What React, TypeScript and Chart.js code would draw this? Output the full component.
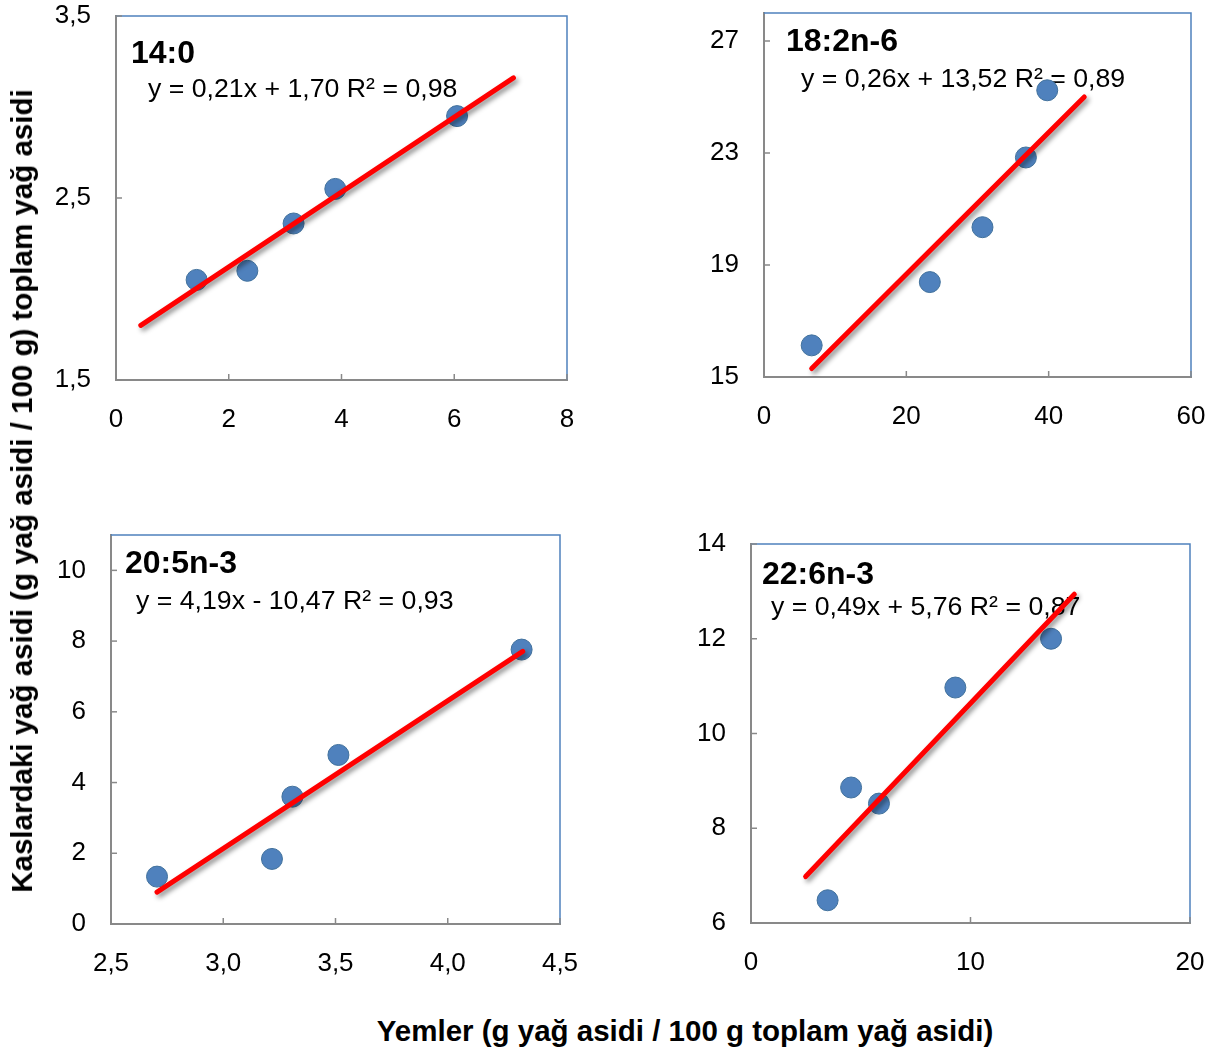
import React, { useEffect, useRef } from 'react';
import { Chart, registerables } from 'chart.js';

Chart.register(...registerables);

const FONT = '"Liberation Sans", Arial, Helvetica, sans-serif';

// ---------- Text ----------
const yAxisTitle = 'Kaslardaki yağ asidi (g yağ asidi / 100 g) toplam yağ asidi';
const xAxisTitle = 'Yemler (g yağ asidi / 100 g toplam yağ asidi)';
const panelTitles = ['14:0', '18:2n-6', '20:5n-3', '22:6n-3'];
const equations = [
  'y = 0,21x + 1,70 R² = 0,98',
  'y = 0,26x + 13,52 R² = 0,89',
  'y = 4,19x - 10,47 R² = 0,93',
  'y = 0,49x + 5,76 R² = 0,87',
];

// ---------- Panel 1: 14:0 ----------
const p1X = [1.43, 2.33, 3.15, 3.89, 6.05];
const p1Y = [2.05, 2.1, 2.36, 2.55, 2.95];
const p1TrendX = [0.44, 7.05];
const p1TrendY = [1.8, 3.16];
const p1XRange = [0, 8];
const p1YRange = [1.5, 3.5];
const p1XTicks = [0, 2, 4, 6, 8];
const p1XLabels = ['0', '2', '4', '6', '8'];
const p1YTicks = [1.5, 2.5, 3.5];
const p1YLabels = ['1,5', '2,5', '3,5'];

// ---------- Panel 2: 18:2n-6 ----------
const p2X = [6.7, 23.3, 30.7, 36.8, 39.8];
const p2Y = [16.13, 18.39, 20.35, 22.84, 25.24];
const p2TrendX = [6.7, 45.0];
const p2TrendY = [15.3, 25.0];
const p2XRange = [0, 60];
const p2YRange = [15, 28];
const p2XTicks = [0, 20, 40, 60];
const p2XLabels = ['0', '20', '40', '60'];
const p2YTicks = [15, 19, 23, 27];
const p2YLabels = ['15', '19', '23', '27'];

// ---------- Panel 3: 20:5n-3 ----------
const p3X = [2.705, 3.217, 3.308, 3.513, 4.329];
const p3Y = [1.34, 1.84, 3.6, 4.78, 7.76];
const p3TrendX = [2.705, 4.334];
const p3TrendY = [0.9, 7.71];
const p3XRange = [2.5, 4.5];
const p3YRange = [0, 11];
const p3XTicks = [2.5, 3.0, 3.5, 4.0, 4.5];
const p3XLabels = ['2,5', '3,0', '3,5', '4,0', '4,5'];
const p3YTicks = [0, 2, 4, 6, 8, 10];
const p3YLabels = ['0', '2', '4', '6', '8', '10'];

// ---------- Panel 4: 22:6n-3 ----------
const p4X = [3.49, 4.56, 5.83, 9.31, 13.67];
const p4Y = [6.48, 8.86, 8.52, 10.97, 12.0];
const p4TrendX = [2.49, 14.73];
const p4TrendY = [6.98, 12.94];
const p4XRange = [0, 20];
const p4YRange = [6, 14];
const p4XTicks = [0, 10, 20];
const p4XLabels = ['0', '10', '20'];
const p4YTicks = [6, 8, 10, 12, 14];
const p4YLabels = ['6', '8', '10', '12', '14'];

// ---------- Layout (page pixel positions of plot areas) ----------
const PAD_L = 90;
const PAD_T = 50;
const PAD_R = 60;
const PAD_B = 70;

type PanelCfg = {
  area: { L: number; T: number; R: number; B: number };
  titleOff: [number, number];
  eqOff: [number, number];
  title: string;
  eq: string;
  xs: number[];
  ys: number[];
  tx: number[];
  ty: number[];
  xRange: number[];
  yRange: number[];
  xTicks: number[];
  xLabels: string[];
  yTicks: number[];
  yLabels: string[];
};

const panels: PanelCfg[] = [
  {
    area: { L: 116, T: 16, R: 567, B: 380 },
    titleOff: [15, 46.7],
    eqOff: [32, 80.7],
    title: panelTitles[0], eq: equations[0],
    xs: p1X, ys: p1Y, tx: p1TrendX, ty: p1TrendY,
    xRange: p1XRange, yRange: p1YRange,
    xTicks: p1XTicks, xLabels: p1XLabels, yTicks: p1YTicks, yLabels: p1YLabels,
  },
  {
    area: { L: 764, T: 13, R: 1191, B: 377 },
    titleOff: [22, 37.7],
    eqOff: [37, 74.3],
    title: panelTitles[1], eq: equations[1],
    xs: p2X, ys: p2Y, tx: p2TrendX, ty: p2TrendY,
    xRange: p2XRange, yRange: p2YRange,
    xTicks: p2XTicks, xLabels: p2XLabels, yTicks: p2YTicks, yLabels: p2YLabels,
  },
  {
    area: { L: 111, T: 535, R: 560, B: 924 },
    titleOff: [14, 38.3],
    eqOff: [25, 74.3],
    title: panelTitles[2], eq: equations[2],
    xs: p3X, ys: p3Y, tx: p3TrendX, ty: p3TrendY,
    xRange: p3XRange, yRange: p3YRange,
    xTicks: p3XTicks, xLabels: p3XLabels, yTicks: p3YTicks, yLabels: p3YLabels,
  },
  {
    area: { L: 751, T: 544, R: 1190, B: 923 },
    titleOff: [11, 40.3],
    eqOff: [20, 71],
    title: panelTitles[3], eq: equations[3],
    xs: p4X, ys: p4Y, tx: p4TrendX, ty: p4TrendY,
    xRange: p4XRange, yRange: p4YRange,
    xTicks: p4XTicks, xLabels: p4XLabels, yTicks: p4YTicks, yLabels: p4YLabels,
  },
];

function Panel({ cfg }: { cfg: PanelCfg }) {
  const ref = useRef<HTMLCanvasElement | null>(null);
  const { L, T, R, B } = cfg.area;
  const w = R - L + PAD_L + PAD_R;
  const h = B - T + PAD_T + PAD_B;

  useEffect(() => {
    if (!ref.current) return;

    const decorPlugin = {
      id: 'decor',
      beforeDatasetsDraw(chart: any) {
        const { ctx, chartArea: ca } = chart;
        ctx.save();
        // plot area frame: top & right in blue
        ctx.strokeStyle = '#4F81BD';
        ctx.lineWidth = 1.5;
        ctx.beginPath();
        ctx.moveTo(ca.left, ca.top);
        ctx.lineTo(ca.right, ca.top);
        ctx.lineTo(ca.right, ca.bottom);
        ctx.stroke();
        // inside tick marks
        ctx.strokeStyle = '#898989';
        ctx.lineWidth = 1.5;
        const xs = chart.scales.x;
        const ys = chart.scales.y;
        xs.ticks.forEach((t: any) => {
          const px = xs.getPixelForValue(t.value);
          ctx.beginPath();
          ctx.moveTo(px, ca.bottom);
          ctx.lineTo(px, ca.bottom - 6);
          ctx.stroke();
        });
        ys.ticks.forEach((t: any) => {
          const py = ys.getPixelForValue(t.value);
          ctx.beginPath();
          ctx.moveTo(ca.left, py);
          ctx.lineTo(ca.left + 6, py);
          ctx.stroke();
        });
        // panel title & equation
        ctx.fillStyle = '#000';
        ctx.textAlign = 'left';
        ctx.textBaseline = 'alphabetic';
        ctx.font = `bold 32px ${FONT}`;
        ctx.fillText(cfg.title, ca.left + cfg.titleOff[0], ca.top + cfg.titleOff[1]);
        ctx.font = `26.7px ${FONT}`;
        ctx.fillText(cfg.eq, ca.left + cfg.eqOff[0], ca.top + cfg.eqOff[1]);
        ctx.restore();
      },
      beforeDatasetDraw(chart: any, args: any) {
        if (args.index === 0) {
          const ctx = chart.ctx;
          ctx.save();
          ctx.shadowColor = 'rgba(0,0,0,0.45)';
          ctx.shadowBlur = 5;
          ctx.shadowOffsetX = 2.5;
          ctx.shadowOffsetY = 3;
        }
      },
      afterDatasetDraw(chart: any, args: any) {
        if (args.index === 0) chart.ctx.restore();
      },
    };

    const tickFont = { family: FONT, size: 26 };

    const chart = new Chart(ref.current, {
      type: 'scatter',
      data: {
        datasets: [
          {
            label: 'trend',
            data: cfg.tx.map((x, i) => ({ x, y: cfg.ty[i] })),
            showLine: true,
            borderColor: '#FF0000',
            borderWidth: 5,
            borderCapStyle: 'round',
            pointRadius: 0,
            fill: false,
          },
          {
            label: 'data',
            data: cfg.xs.map((x, i) => ({ x, y: cfg.ys[i] })),
            pointRadius: 10.5,
            pointBackgroundColor: '#4F81BD',
            pointBorderColor: '#41719C',
            pointBorderWidth: 1,
            showLine: false,
          },
        ],
      },
      options: {
        animation: false,
        responsive: true,
        maintainAspectRatio: false,
        events: [],
        layout: { padding: { left: 0, top: PAD_T, right: PAD_R, bottom: 0 } },
        plugins: { legend: { display: false }, tooltip: { enabled: false } },
        scales: {
          x: {
            type: 'linear',
            position: 'bottom',
            min: cfg.xRange[0],
            max: cfg.xRange[1],
            grid: { display: false, drawTicks: false },
            border: { display: true, color: '#898989', width: 2 },
            ticks: {
              font: tickFont,
              color: '#000',
              padding: 24.5,
              maxRotation: 0,
              autoSkip: false,
              callback: (v: any) => {
                const i = cfg.xTicks.findIndex((t) => Math.abs(t - v) < 1e-9);
                return i >= 0 ? cfg.xLabels[i] : '';
              },
            },
            afterBuildTicks: (axis: any) => {
              axis.ticks = cfg.xTicks.map((v) => ({ value: v }));
            },
            afterFit: (axis: any) => {
              axis.height = PAD_B;
            },
          },
          y: {
            type: 'linear',
            position: 'left',
            min: cfg.yRange[0],
            max: cfg.yRange[1],
            grid: { display: false, drawTicks: false },
            border: { display: true, color: '#898989', width: 2 },
            ticks: {
              font: tickFont,
              color: '#000',
              padding: 25,
              autoSkip: false,
              callback: (v: any) => {
                const i = cfg.yTicks.findIndex((t) => Math.abs(t - v) < 1e-9);
                return i >= 0 ? cfg.yLabels[i] : '';
              },
            },
            afterBuildTicks: (axis: any) => {
              axis.ticks = cfg.yTicks.map((v) => ({ value: v }));
            },
            afterFit: (axis: any) => {
              axis.width = PAD_L;
            },
          },
        },
      } as any,
      plugins: [decorPlugin],
    } as any);

    return () => chart.destroy();
  }, [cfg]);

  return (
    <div
      style={{
        position: 'absolute',
        left: L - PAD_L,
        top: T - PAD_T,
        width: w,
        height: h,
      }}
    >
      <canvas ref={ref} />
    </div>
  );
}

export default function App() {
  return (
    <div
      style={{
        position: 'absolute',
        left: 0,
        top: 0,
        width: 1214,
        height: 1052,
        background: '#fff',
        overflow: 'hidden',
        fontFamily: FONT,
      }}
    >
      {panels.map((p, i) => (
        <Panel key={i} cfg={p} />
      ))}
      <div
        style={{
          position: 'absolute',
          left: 22,
          top: 490.5,
          transform: 'translate(-50%, -50%) rotate(-90deg)',
          whiteSpace: 'nowrap',
          fontWeight: 'bold',
          fontSize: 29.5,
          lineHeight: 'normal',
          color: '#000',
        }}
      >
        {yAxisTitle}
      </div>
      <div
        style={{
          position: 'absolute',
          left: 685,
          top: 1031,
          transform: 'translate(-50%, -50%)',
          whiteSpace: 'nowrap',
          fontWeight: 'bold',
          fontSize: 29.5,
          lineHeight: 'normal',
          color: '#000',
        }}
      >
        {xAxisTitle}
      </div>
    </div>
  );
}
